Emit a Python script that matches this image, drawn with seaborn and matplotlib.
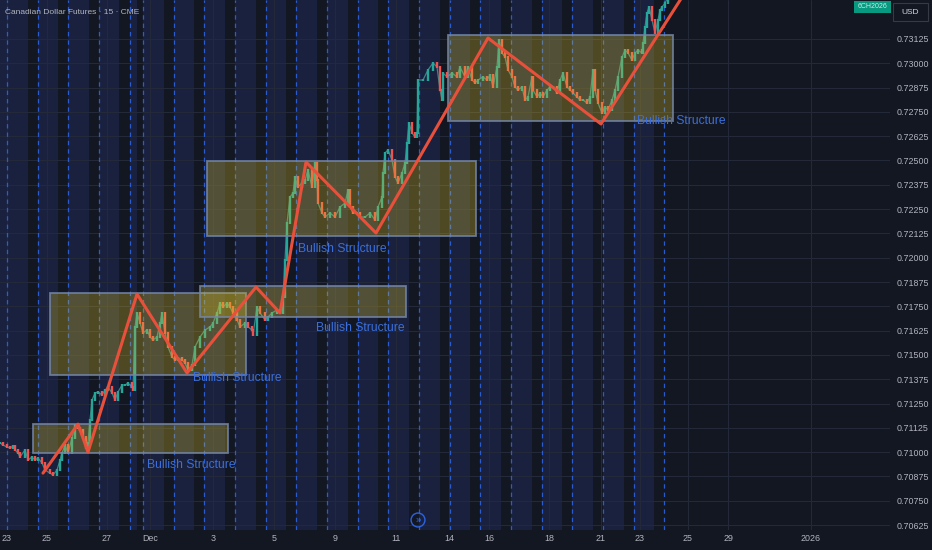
import numpy as np
import pandas as pd
import matplotlib
matplotlib.use("Agg")
import matplotlib.pyplot as plt
from matplotlib.patches import Rectangle
import seaborn as sns

# x = 15-minute bar index (0 = open of the Nov 23 session), y = close price
bars = [
    -21, -12, 0, 9, 18, 24, 33, 39, 54, 63, 75, 84, 93, 105, 114, 129, 138, 150, 159, 165,
    174, 183, 195, 204, 213, 219, 228, 237, 243, 249, 255, 264, 273, 285, 294, 303, 315, 324, 333, 345,
    354, 363, 375, 378,
    384, 390, 399, 408, 420, 429, 438, 450, 459, 465, 474, 483, 495, 504, 513, 525, 534, 543, 555, 564,
    579, 594, 609, 618, 630, 639, 648, 660, 669, 678, 690, 699, 714, 723, 735, 738, 750, 759, 774, 783,
    795, 810, 819, 828,
    834, 840, 849, 858, 864, 873, 885, 894, 903, 915, 924, 930, 933, 945, 954, 969, 984, 999, 1014, 1023,
    1029, 1038, 1050, 1059, 1074, 1089, 1104, 1113, 1125, 1128, 1134, 1143, 1155, 1164, 1173, 1185, 1194, 1200, 1206, 1215,
    1224, 1230,
    1233, 1248, 1263, 1278, 1290, 1299, 1305, 1308, 1320, 1335, 1350, 1359, 1374, 1383, 1395, 1404, 1413, 1428, 1440, 1449,
    1458, 1470, 1476, 1485, 1494, 1503, 1515, 1524, 1533, 1545, 1554, 1563, 1575, 1578, 1590, 1599, 1608, 1620, 1629, 1638,
    1650, 1659, 1668, 1680, 1689, 1698, 1710, 1719, 1728, 1740, 1749, 1758, 1764, 1773, 1785, 1794, 1803, 1815, 1824, 1833,
    1845, 1854, 1863, 1875, 1884, 1893, 1905, 1908, 1914, 1920, 1926, 1935, 1944, 1953, 1959, 1965, 1974, 1983,
]
closes = [
    0.71047, 0.71036, 0.71026, 0.71021, 0.71031, 0.71011, 0.70995, 0.70975, 0.71011, 0.70959,
    0.70975, 0.70959, 0.70970, 0.70944, 0.70908, 0.70892, 0.70882, 0.70908, 0.70959, 0.70995,
    0.71036, 0.70995, 0.71072, 0.71139, 0.71124, 0.71114, 0.71078, 0.71021, 0.71047, 0.71165,
    0.71268, 0.71304, 0.71309, 0.71294, 0.71319, 0.71335, 0.71304, 0.71268, 0.71309, 0.71345,
    0.71345, 0.71355, 0.71335, 0.71319,
    0.71644, 0.71716, 0.71664, 0.71613, 0.71628, 0.71592, 0.71577, 0.71592, 0.71664, 0.71716,
    0.71613, 0.71541, 0.71489, 0.71474, 0.71484, 0.71474, 0.71458, 0.71422, 0.71448, 0.71541,
    0.71592, 0.71628, 0.71644, 0.71664, 0.71716, 0.71767, 0.71746, 0.71767, 0.71746, 0.71716,
    0.71680, 0.71644, 0.71664, 0.71644, 0.71628, 0.71602, 0.71746, 0.71716, 0.71680, 0.71695,
    0.71716, 0.71731, 0.71716, 0.71798,
    0.71988, 0.72178, 0.72312, 0.72333, 0.72415, 0.72364, 0.72384, 0.72400, 0.72451, 0.72364,
    0.72487, 0.72400, 0.72281, 0.72230, 0.72209, 0.72230, 0.72209, 0.72261, 0.72281, 0.72348,
    0.72261, 0.72230, 0.72230, 0.72209, 0.72209, 0.72230, 0.72194, 0.72261, 0.72312, 0.72436,
    0.72539, 0.72554, 0.72503, 0.72415, 0.72384, 0.72436, 0.72487, 0.72590, 0.72693, 0.72641,
    0.72621, 0.72641,
    0.72914, 0.72914, 0.72966, 0.73002, 0.72981, 0.72863, 0.72811, 0.72950, 0.72930, 0.72950,
    0.72930, 0.72981, 0.72930, 0.72981, 0.72914, 0.72899, 0.72914, 0.72930, 0.72914, 0.72940,
    0.72878, 0.72981, 0.73120, 0.73053, 0.73032, 0.72966, 0.72930, 0.72878, 0.72863, 0.72878,
    0.72811, 0.72827, 0.72930, 0.72863, 0.72827, 0.72847, 0.72827, 0.72863, 0.72878, 0.72878,
    0.72847, 0.72914, 0.72950, 0.72878, 0.72863, 0.72847, 0.72827, 0.72811, 0.72811, 0.72796,
    0.72827, 0.72966, 0.72863, 0.72796, 0.72744, 0.72775, 0.72760, 0.72811, 0.72863, 0.72930,
    0.73032, 0.73068, 0.73053, 0.73017, 0.73053, 0.73068, 0.73053, 0.73104, 0.73187, 0.73259,
    0.73290, 0.73223, 0.73156, 0.73223, 0.73274, 0.73290, 0.73310, 0.73341,
]

# session opens (dashed lines)
session_starts = [0, 92, 184, 276, 368, 408, 500, 592, 684, 776, 868, 960, 1052, 1144,
                  1236, 1328, 1420, 1512, 1604, 1696, 1788, 1880, 1972]
# highlighted hours of each session
band_starts = [-21, 0, 92, 184, 276, 368, 408, 500, 592, 684, 776, 868, 960, 1052, 1144,
               1236, 1328, 1420, 1512, 1604, 1696, 1788, 1880]
band_ends = [0, 62, 154, 246, 336, 389, 470, 562, 654, 746, 838, 930, 1022, 1114, 1206,
             1298, 1390, 1482, 1574, 1666, 1758, 1850, 1942]

# red swing line
zz_bars = [108, 213, 243, 390, 540, 747, 819, 897, 1107, 1443, 1782, 2079]
zz_prices = [0.70892, 0.71144, 0.71000, 0.71813, 0.71407, 0.71849, 0.71716,
             0.72492, 0.72127, 0.73130, 0.72688, 0.73485]

# structure boxes
box_left = [78, 129, 579, 600, 1323]
box_right = [663, 717, 1197, 1407, 1998]
box_top = [0.71144, 0.71818, 0.71854, 0.72497, 0.73146]
box_bottom = [0.70995, 0.71397, 0.71695, 0.72112, 0.72703]

label_bars = [420, 558, 927, 873, 1890]
label_prices = [0.70934, 0.71381, 0.71638, 0.72045, 0.72703]

tick_bars = [0, 120, 300, 429, 618, 801, 984, 1167, 1326, 1446, 1626, 1782, 1899, 2043, 2163, 2412]
tick_labels = ["23", "25", "27", "Dec", "3", "5", "9", "11", "14", "16", "18", "21", "23", "25", "29", "2026"]

price_ticks = [0.70625, 0.70750, 0.70875, 0.71000, 0.71125, 0.71250, 0.71375, 0.71500,
               0.71625, 0.71750, 0.71875, 0.72000, 0.72125, 0.72250, 0.72375, 0.72500,
               0.72625, 0.72750, 0.72875, 0.73000, 0.73125]

BG = "#131722"
NAVY = "#19213f"
TXT = "#b2b5be"

sns.set_theme(style="dark")
plt.rcParams["font.family"] = ["Liberation Sans", "DejaVu Sans"]

fig = plt.figure(figsize=(9.32, 5.5), dpi=100, facecolor=BG)
ax = fig.add_axes([0, 20 / 550, 890 / 932, 530 / 550])
ax.set_facecolor(BG)
ax.set_xlim(-21, 2649)
ax.set_ylim(0.705993, 0.733256)

# session shading + dashed session lines
for s, e in zip(band_starts, band_ends):
    ax.axvspan(s, e, color=NAVY, lw=0, zorder=0.2)
for s in session_starts:
    ax.axvline(s, color="#2d63e0", lw=0.9, ls=(0, (3.5, 3.2)), alpha=0.9, zorder=1)

# candles (open = previous close)
df = pd.DataFrame({"bar": bars, "close": closes})
df["open"] = df["close"].shift(1).fillna(df["close"])
df["lo"] = df[["open", "close"]].min(axis=1)
df["hi"] = df[["open", "close"]].max(axis=1)
up = df["close"] >= df["open"]
ax.plot(df["bar"], df["close"], color="#3e9a90", lw=0.9, alpha=0.85, zorder=2.8)
ax.vlines(df["bar"], df["lo"] - 0.00004, df["hi"] + 0.00004,
          colors=np.where(up, "#26a69a", "#ef5350"), lw=1.7, zorder=3)

# boxes
for l, r, t, b in zip(box_left, box_right, box_top, box_bottom):
    ax.add_patch(Rectangle((l, b), r - l, t - b, facecolor=(0.85, 0.75, 0.15, 0.3),
                           edgecolor=(0.45, 0.52, 0.66, 0.85), lw=1.3, zorder=4))

sns.lineplot(x=zz_bars, y=zz_prices, sort=False, estimator=None, color="#e8503c",
             lw=2.2, ax=ax, zorder=5)

for xb, yp in zip(label_bars, label_prices):
    ax.text(xb, yp, "Bullish Structure", color="#3c6fd9", fontsize=8.7, ha="left",
            va="center", zorder=6)

# axes styling
ax.set_axisbelow(True)
ax.grid(True, color="#252a3a", lw=0.7)
for sp in ax.spines.values():
    sp.set_visible(False)
ax.yaxis.tick_right()
ax.set_yticks(price_ticks, [f"{p:.5f}" for p in price_ticks])
ax.set_xticks(tick_bars, tick_labels)
ax.tick_params(axis="y", length=0, pad=5, labelsize=6.4, labelcolor=TXT)
ax.tick_params(axis="x", length=0, pad=3, labelsize=6.4, labelcolor=TXT)
ax.set_xlabel("")
ax.set_ylabel("")

fig.text(5 / 932, 1 - 12 / 550, "Canadian Dollar Futures · 15 · CME", color=TXT,
         fontsize=6.0, ha="left", va="center")

# price-scale decorations
fig.add_artist(Rectangle((893 / 932, 1 - 21 / 550), 35 / 932, 18 / 550, transform=fig.transFigure,
                         facecolor=BG, edgecolor="#363a45", lw=0.8))
fig.text(910 / 932, 1 - 12 / 550, "USD", color="#d1d4dc", fontsize=6, ha="center", va="center")
fig.add_artist(Rectangle((854 / 932, 1 - 13 / 550), 37 / 932, 12 / 550, transform=fig.transFigure,
                         facecolor="#089981", edgecolor="none"))
fig.text(872.5 / 932, 1 - 7 / 550, "6CH2026", color="#cdeee8", fontsize=5, ha="center", va="center")
fig.text(418 / 932, 1 - 520 / 550, "»", color="#2d63e0", fontsize=7, ha="center", va="center",
         bbox=dict(boxstyle="circle,pad=0.2", fc="none", ec="#2d63e0", lw=1))

fig.savefig("out.png", dpi=100, facecolor=BG)
